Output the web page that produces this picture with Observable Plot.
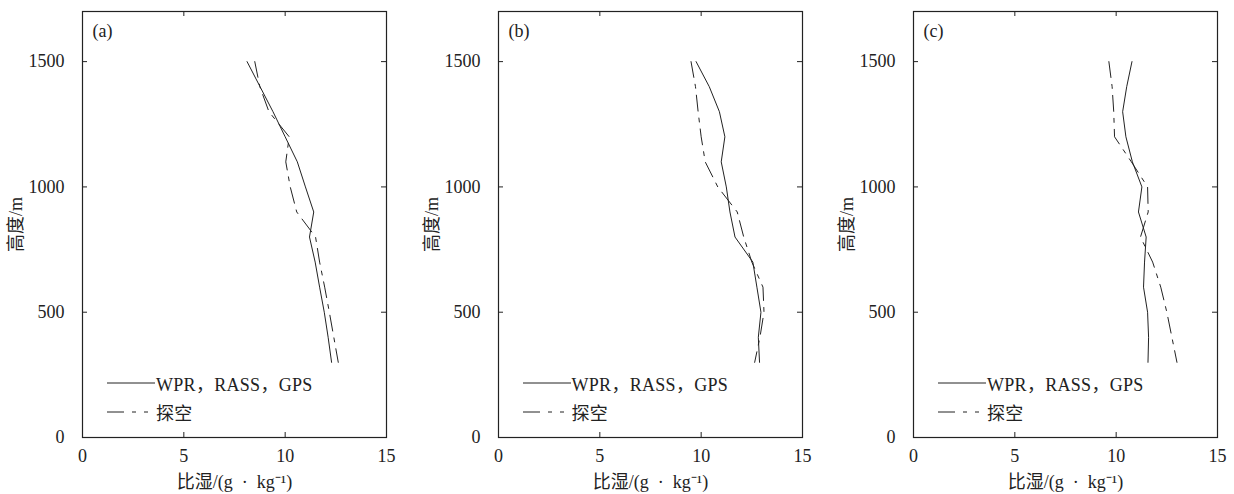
<!DOCTYPE html>
<html>
<head>
<meta charset="utf-8">
<script src="https://cdn.jsdelivr.net/npm/d3@7"></script>
<script src="https://cdn.jsdelivr.net/npm/@observablehq/plot@0.6"></script>
<style>
  html, body { margin: 0; padding: 0; background: #fff; }
  #wrap { position: relative; width: 1234px; height: 494px; overflow: hidden; background: #fff; }
  #wrap > svg { position: absolute; top: 0; }
  .legend { position: absolute; font-family: "Liberation Serif", "Times New Roman", "Noto Sans CJK SC", serif; font-size: 18px; color: #222; }
  .legend .row { position: absolute; left: 0; display: flex; align-items: center; white-space: nowrap; height: 22px; }
  .legend svg { display: block; }
</style>
</head>
<body>
<div id="wrap"></div>
<script>
// ---- data ----
const heights = [1500, 1400, 1300, 1200, 1100, 1000, 900, 800, 700, 600, 500, 400, 300];
const seriesNames = ["WPR，RASS，GPS", "探空"];
const panelLabels = ["(a)", "(b)", "(c)"];
const xTicks = [0, 5, 10, 15];
const yTicks = [0, 500, 1000, 1500];
const xLabel = "比湿/(g\u2002·\u2002kg⁻¹)";
const yLabel = "高度/m";

const wprA   = [8.12, 8.76, 9.40, 10.00, 10.60, 11.00, 11.41, 11.20, 11.48, 11.70, 11.93, 12.12, 12.29];
const sondeA = [8.50, 8.75, 9.20, 10.20, 10.03, 10.25, 10.57, 11.50, 11.70, 11.95, 12.18, 12.40, 12.62];

const wprB   = [9.75, 10.40, 10.90, 11.17, 10.99, 11.24, 11.42, 11.67, 12.55, 12.75, 12.95, 12.82, 12.88];
const sondeB = [9.50, 9.72, 9.85, 10.00, 10.20, 10.82, 11.78, 12.10, 12.50, 13.05, 13.10, 12.90, 12.64];

const wprC   = [10.78, 10.52, 10.32, 10.48, 10.80, 11.27, 11.10, 11.48, 11.40, 11.35, 11.55, 11.60, 11.57];
const sondeC = [9.64, 9.80, 9.88, 9.92, 10.75, 11.55, 11.58, 11.20, 11.80, 12.20, 12.50, 12.75, 13.00];

// ---- layout / style ----
const FONT = '"Liberation Serif", "Times New Roman", "Noto Sans CJK SC", serif';
const INK = "#222";
const DASH = "16,7,4,7";
const LEGEND_DASH = "17,8,4,8,4,7";
const W = 415, H = 494, ML = 82, MR = 29, MT = 11, MB = 57;
const plotW = W - ML - MR, plotH = H - MT - MB;
const tickLen = 5;
const panelLefts = [0, 415.5, 831];

function rows(vals) { return heights.map((h, i) => ({h, q: vals[i]})); }

function panel(label, wpr, sonde) {
  return Plot.plot({
    width: W, height: H,
    marginLeft: ML, marginRight: MR, marginTop: MT, marginBottom: MB,
    style: {fontFamily: FONT, fontSize: "18px", color: INK, background: "transparent", overflow: "visible"},
    x: {domain: [0, 15]},
    y: {domain: [0, 1700]},
    marks: [
      Plot.axisX(xTicks, {tickSize: 0, tickPadding: 12, fontSize: 18, tickFormat: d => String(d),
        label: xLabel, labelAnchor: "center", labelOffset: 50, labelArrow: "none"}),
      Plot.axisY(yTicks, {tickSize: 0, tickPadding: 18, fontSize: 18, tickFormat: d => String(d),
        label: yLabel, labelAnchor: "center", labelOffset: 73, labelArrow: "none"}),
      Plot.tickX(xTicks, {x: d => d, insetTop: plotH - tickLen, stroke: INK}),
      Plot.tickX(xTicks, {x: d => d, insetBottom: plotH - tickLen, stroke: INK}),
      Plot.tickY(yTicks, {y: d => d, insetRight: plotW - tickLen, stroke: INK}),
      Plot.tickY(yTicks, {y: d => d, insetLeft: plotW - tickLen, stroke: INK}),
      Plot.line(rows(wpr), {x: "q", y: "h", stroke: INK, strokeWidth: 1}),
      Plot.line(rows(sonde), {x: "q", y: "h", stroke: INK, strokeWidth: 1, strokeDasharray: DASH}),
      Plot.frame({stroke: INK, strokeWidth: 1.2}),
      Plot.text([label], {frameAnchor: "top-left", text: d => d, dx: 10, dy: 13, lineAnchor: "top", textAnchor: "start", fontSize: 18, fill: INK})
    ]
  });
}

const wrap = document.getElementById("wrap");
const data = [[wprA, sondeA], [wprB, sondeB], [wprC, sondeC]];
data.forEach(([w, s], i) => {
  const svg = panel(panelLabels[i], w, s);
  svg.style.left = panelLefts[i] + "px";
  wrap.appendChild(svg);

  // legend (inside the axes, lower left)
  const lg = document.createElement("div");
  lg.className = "legend";
  lg.style.left = (panelLefts[i] + ML + 25) + "px";
  lg.style.top = "372px";
  const styles = [null, LEGEND_DASH];
  seriesNames.forEach((name, j) => {
    const row = document.createElement("div");
    row.className = "row";
    row.style.top = (j * 28.5) + "px";
    row.innerHTML =
      `<svg width="48" height="6"><line x1="0" y1="3" x2="48" y2="3" stroke="${INK}" stroke-width="1"${styles[j] ? ` stroke-dasharray="${styles[j]}"` : ""}/></svg>` +
      `<span style="margin-left:1px;letter-spacing:0.3px">${name}</span>`;
    lg.appendChild(row);
  });
  wrap.appendChild(lg);
});
</script>
</body>
</html>
